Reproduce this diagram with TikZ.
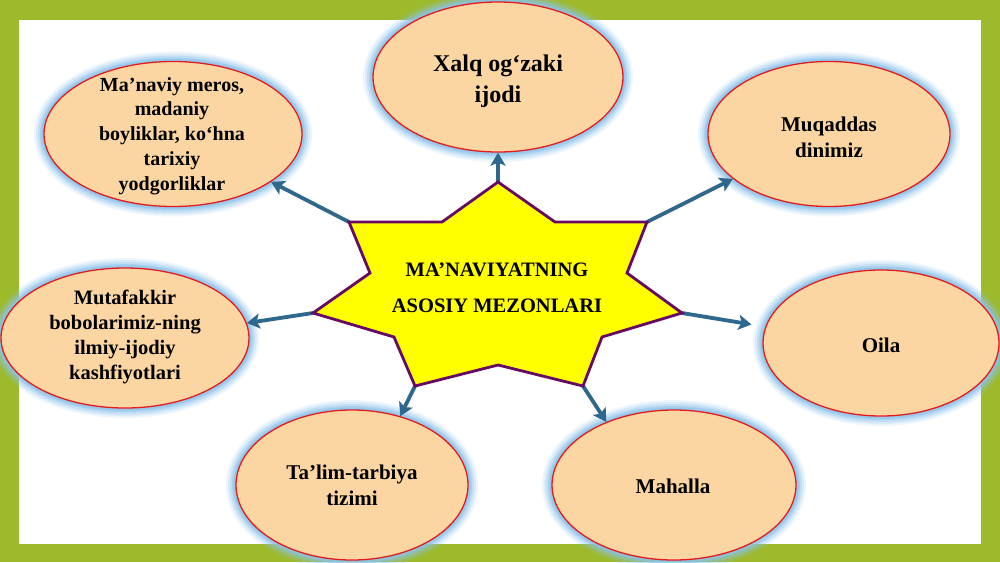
\documentclass[tikz,border=0pt]{standalone}
\usepackage{fontspec}
\setmainfont{Liberation Serif}
\usetikzlibrary{shapes.geometric,arrows.meta}
\definecolor{framegreen}{RGB}{157,186,44}
\definecolor{peach}{RGB}{251,214,163}
\definecolor{bubred}{RGB}{226,28,28}
\definecolor{glowblue}{RGB}{140,195,235}
\definecolor{arrowc}{RGB}{46,104,140}
\definecolor{starfill}{RGB}{255,255,0}
\definecolor{starline}{RGB}{102,10,100}
\tikzset{
  bub/.style={ellipse, draw=bubred, line width=1.3pt, fill=peach, inner sep=0pt,
    preaction={draw=glowblue, line width=20pt, draw opacity=0.15},
    preaction={draw=glowblue, line width=16pt, draw opacity=0.2},
    preaction={draw=glowblue, line width=12pt, draw opacity=0.3},
    preaction={draw=glowblue, line width=8pt, draw opacity=0.45},
    preaction={draw=glowblue, line width=5pt, draw opacity=0.6}},
  btext/.style={align=center, inner sep=0pt, font=\bfseries\fontsize{21}{26}\selectfont},
  arr/.style={draw=arrowc, line width=3.8pt, line cap=butt,
    -{Stealth[length=13pt,width=15pt,inset=3pt]}},
  starsty/.style={fill=starfill, draw=starline, line width=2.8pt, line join=miter}
}
\begin{document}
\begin{tikzpicture}[x=1pt,y=-1pt]
\useasboundingbox (0,0) rectangle (1000,562);
\fill[framegreen] (0,0) rectangle (1000,562);
\fill[white] (19,20) rectangle (981,544);

% ellipses
\node[bub, minimum width=250pt, minimum height=150pt] (e1) at (498,77) {};
\node[bub, minimum width=258pt, minimum height=145pt] (e2) at (173,134) {};
\node[bub, minimum width=242pt, minimum height=145pt] (e3) at (829,134) {};
\node[bub, minimum width=248pt, minimum height=140pt] (e4) at (125,338) {};
\node[bub, minimum width=236pt, minimum height=146pt] (e5) at (881,343) {};
\node[bub, minimum width=232pt, minimum height=150pt] (e6) at (352,485) {};
\node[bub, minimum width=244pt, minimum height=150pt] (e7) at (674,485) {};

% texts
\node[btext, font=\bfseries\fontsize{24}{31}\selectfont] (t1) at (498,81) {Xalq og‘zaki\\ijodi};
\node[btext, font=\bfseries\fontsize{20}{24.8}\selectfont] (t2) at (172,136) {Ma’naviy meros,\\madaniy\\boyliklar, ko‘hna\\tarixiy\\yodgorliklar};
\node[btext] (t3) at (829,137) {Muqaddas\\dinimiz};
\node[btext, font=\bfseries\fontsize{20.5}{25}\selectfont] (t4) at (125,337) {Mutafakkir\\bobolarimiz-ning\\ilmiy-ijodiy\\kashfiyotlari};
\node[btext] (t5) at (881,345) {Oila};
\node[btext] (t6) at (352,485) {Ta’lim-tarbiya\\tizimi};
\node[btext] (t7) at (673,486) {Mahalla};

% star points
\coordinate (s1) at (498,182);
\coordinate (i1) at (555,222);
\coordinate (s2) at (647,222);
\coordinate (i2) at (627,273);
\coordinate (s3) at (682,313);
\coordinate (i3) at (602,337);
\coordinate (s4) at (583,386);
\coordinate (i4) at (498,365);
\coordinate (s5) at (415,386);
\coordinate (i5) at (394,337);
\coordinate (s6) at (313,313);
\coordinate (i6) at (370,273);
\coordinate (s7) at (349,222);
\coordinate (i7) at (442,222);

% arrows
\draw[arr] (s1) -- (e1.south);
\draw[arr] (s7) -- (e2.334);
\draw[arr] (s2) -- (e3.205);
\draw[arr] (s6) -- (e4.7);
\draw[arr, shorten >=14pt] (s3) -- (e5.172);
\draw[arr] (s5) -- (e6.55);
\draw[arr] (s4) -- (e7.137);

% star
\draw[starsty] (s1) -- (i1) -- (s2) -- (i2) -- (s3) -- (i3) -- (s4) -- (i4) -- (s5) -- (i5) -- (s6) -- (i6) -- (s7) -- (i7) -- cycle;
\node[btext, font=\bfseries\fontsize{20.5}{36}\selectfont] (c) at (497,288) {MA’NAVIYATNING\\ASOSIY MEZONLARI};
\end{tikzpicture}
\end{document}
